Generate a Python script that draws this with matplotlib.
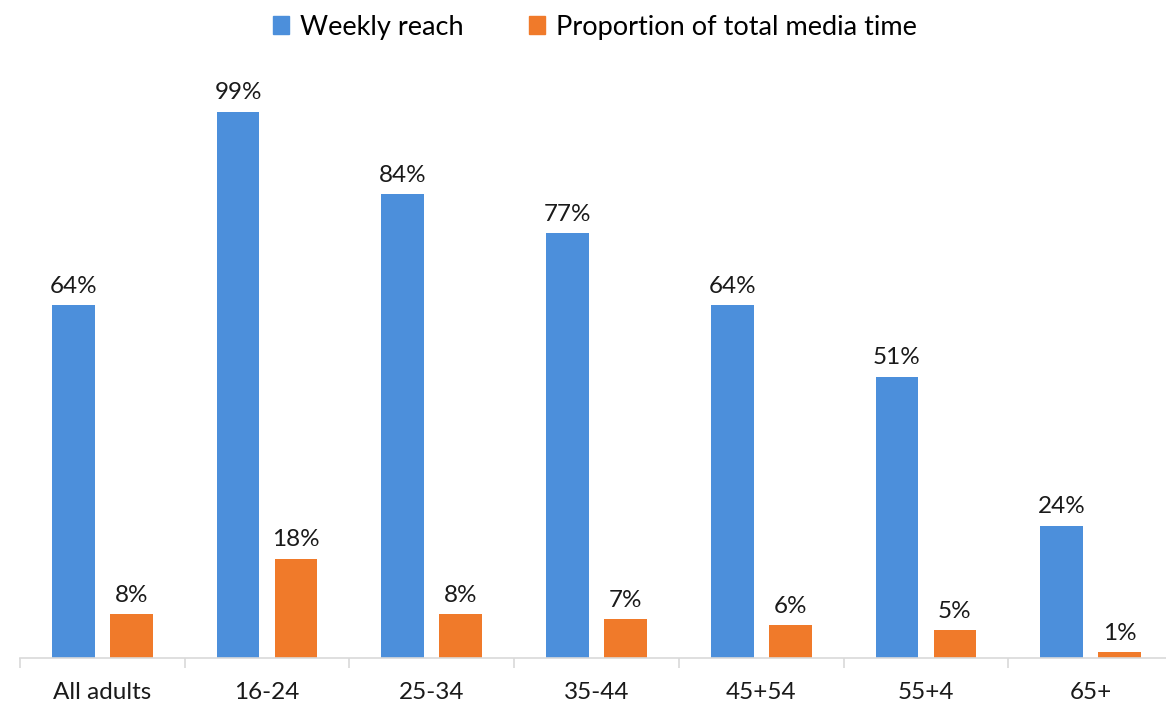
import matplotlib
matplotlib.use("Agg")
import matplotlib.pyplot as plt
import numpy as np
from matplotlib.patches import Patch

# ── Data ────────────────────────────────────────────────────────────────
groups = ["All adults", "16-24", "25-34", "35-44", "45+54", "55+4", "65+"]
weekly_reach = [64, 99, 84, 77, 64, 51, 24]
media_time = [8, 18, 8, 7, 6, 5, 1]

BLUE = "#4C8FDB"
ORANGE = "#F07A2A"
TEXT = "#1a1a1a"

plt.rcParams["font.family"] = ["Lato", "DejaVu Sans"]

fig = plt.figure(figsize=(11.66, 7.11), dpi=100)
# axes spans px 20..1173 horizontally, baseline at 658 px from top
ax = fig.add_axes([20 / 1166, 53 / 711, 1153 / 1166, 607 / 711])

x = np.arange(len(groups))
w = 0.26
off = 0.176

b1 = ax.bar(x - off, weekly_reach, w, color=BLUE)
b2 = ax.bar(x + off, media_time, w, color=ORANGE)

for bars, vals in ((b1, weekly_reach), (b2, media_time)):
    for rect, v in zip(bars, vals):
        ax.annotate(f"{v}%", (rect.get_x() + rect.get_width() / 2, v),
                    xytext=(0, 6), textcoords="offset points",
                    ha="center", va="bottom", fontsize=17.5, color=TEXT)

ax.set_xlim(-0.5, len(groups) - 0.5)
ax.set_ylim(0, 110)

for s in ("top", "right", "left"):
    ax.spines[s].set_visible(False)
ax.spines["bottom"].set_color("#d9d9d9")
ax.spines["bottom"].set_linewidth(1.2)

ax.set_yticks([])
ax.set_xticks(x)
ax.set_xticklabels(groups, fontsize=17.5, color=TEXT)
ax.tick_params(axis="x", which="major", length=0, pad=17)
ax.set_xticks(np.arange(-0.5, len(groups), 1.0), minor=True)
ax.tick_params(axis="x", which="minor", length=7, color="#d9d9d9", width=1.2)

handles = [Patch(color=BLUE, label="Weekly reach"),
           Patch(color=ORANGE, label="Proportion of total media time")]
fig.legend(handles=handles, loc="center", bbox_to_anchor=(595 / 1166, 1 - 27 / 711),
           ncol=2, frameon=False, fontsize=19.5, handlelength=0.6, handleheight=0.6,
           handletextpad=0.4, columnspacing=2.4)

fig.savefig("out.png", dpi=100)
